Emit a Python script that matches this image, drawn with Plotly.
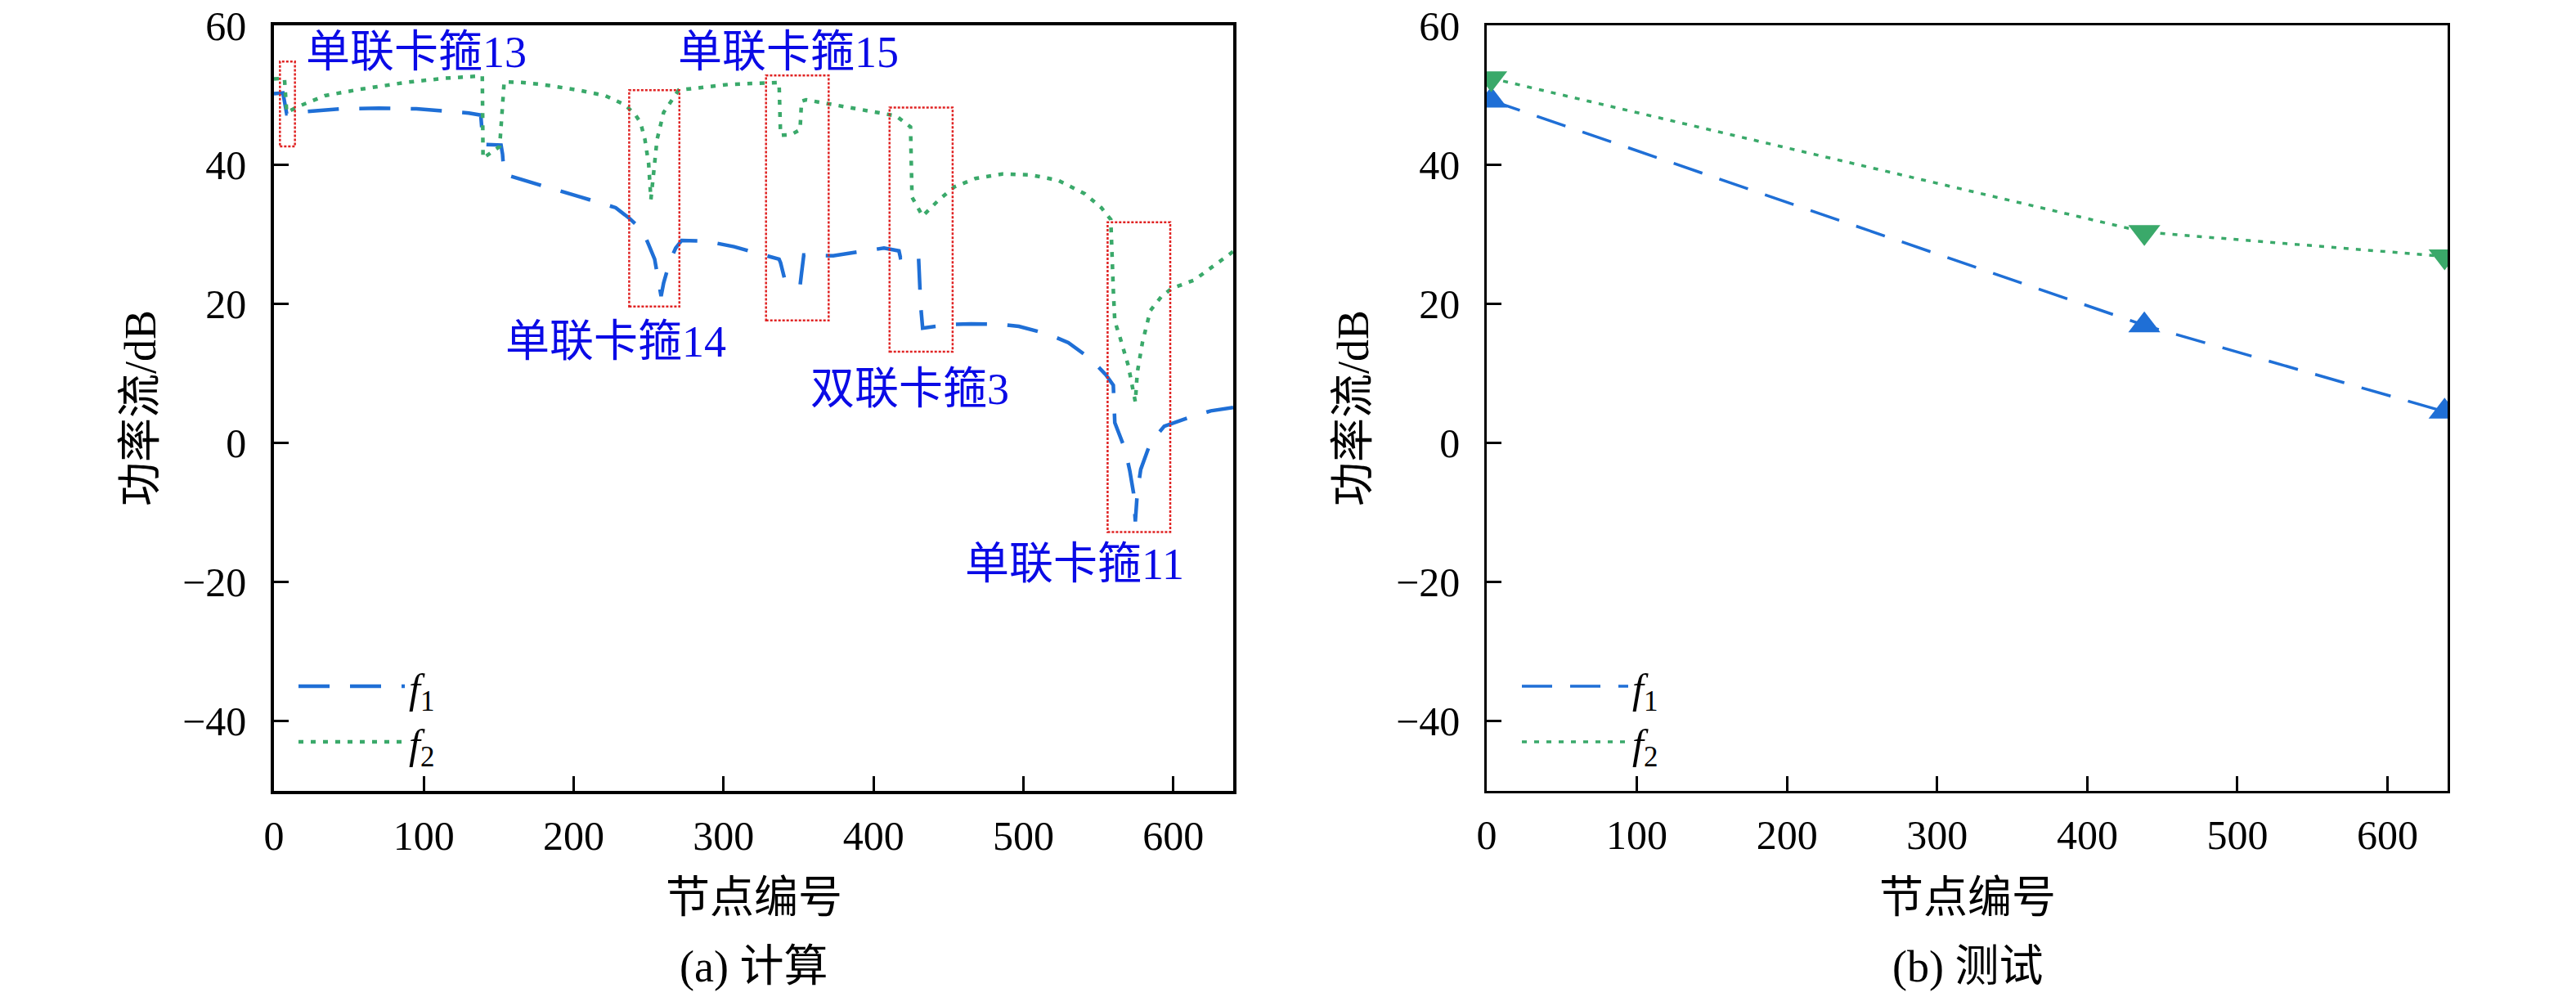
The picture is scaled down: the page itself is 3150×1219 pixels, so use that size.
import plotly.graph_objects as go

# ---------------- data: panel (a) 计算 ----------------
f1_x = [0, 6, 8.5, 20, 45, 70, 95, 115, 130, 138, 139.5, 151.5, 152.5, 153.5, 173, 186, 205, 219, 228, 237,
        246, 250, 254, 256.5, 258.3, 260, 264, 268, 272, 288, 307, 320, 337, 338, 341, 346, 351, 352, 353.5,
        373, 387, 407, 417, 418, 425, 430, 431.5, 432.8, 450, 465, 485, 497, 517, 530, 545, 555, 560, 561,
        568, 571, 573.5, 574.7, 576, 578.3, 584.7, 594, 612, 625, 640]
f1_y = [50.2, 50.3, 47.3, 47.6, 48.0, 48.1, 48.0, 47.7, 47.4, 47.1, 42.9, 42.8, 41.5, 38.6, 37.4, 36.6, 35.3, 34.4, 33.8, 32.3,
        30.5, 28.5, 26.4, 23.3, 21.1, 23.0, 26.0, 28.0, 29.1, 29.0, 28.2, 27.4, 26.4, 25.9, 23.3, 23.0, 22.6, 24.4, 27.0,
        26.9, 27.4, 28.0, 27.6, 26.6, 26.9, 27.0, 19.7, 16.5, 17.0, 17.1, 17.05, 16.75, 15.6, 14.4, 12.05, 9.8, 8.3, 2.9,
        -1.0, -4.0, -7.2, -11.3, -7.2, -3.8, 0.0, 2.4, 3.75, 4.6, 5.1]

f2_x = [0, 7, 8.5, 18, 34, 57, 88, 114, 135.5, 139, 139.5, 150.6, 153.6, 165, 179, 203, 221, 234, 241,
        244.6, 247.5, 250, 251.5, 253.4, 255.6, 260, 270, 303, 337, 338, 345, 351, 352, 355, 375, 403, 415,
        424.7, 425.7, 432.8, 443, 454, 468, 486, 505, 523, 541, 552, 558.3, 560, 561, 564.7, 570, 574.7,
        576, 579.5, 584.7, 592, 599, 614, 625, 640]
f2_y = [52.3, 52.4, 47.5, 48.5, 49.9, 50.8, 51.8, 52.4, 52.7, 52.7, 40.9, 42.6, 51.9, 51.8, 51.5, 50.7, 49.9, 48.6, 47.2,
        46.0, 43.6, 40.1, 35.0, 39.0, 43.6, 47.5, 50.7, 51.5, 51.8, 44.2, 44.3, 45.0, 49.1, 49.3, 48.5, 47.5, 47.0,
        45.4, 35.3, 32.6, 34.8, 36.8, 38.0, 38.65, 38.5, 37.75, 35.8, 33.8, 32.1, 22.0, 17.5, 15.0, 11.1, 5.9,
        10.1, 14.5, 19.0, 21.0, 22.2, 23.4, 25.2, 27.5]

# annotation boxes (x0, x1, y0, y1) and labels (text, x, y)
box_x0 = [4, 237, 328.3, 410.7, 556.2]
box_x1 = [14, 270.5, 370.1, 452.8, 598]
box_y0 = [42.6, 19.6, 17.6, 13.1, -12.8]
box_y1 = [54.8, 50.7, 52.8, 48.2, 31.7]
label_text = ["单联卡箍13", "单联卡箍15", "单联卡箍14", "双联卡箍3", "单联卡箍11"]
label_x = [95, 343, 228, 424, 534]
label_y = [56.1, 56.1, 14.5, 7.7, -17.5]

# ---------------- data: panel (b) 测试 ----------------
b_x = [3, 438, 638]
b_f1 = [49.2, 16.9, 4.5]
b_f2 = [52.4, 30.3, 26.8]

x_ticks = [0, 100, 200, 300, 400, 500, 600]
y_ticks = [-40, -20, 0, 20, 40, 60]

BLUE = "#1f6fd6"
GREEN = "#3aa96a"
RED = "#e02222"
LABEL = "#0a0ae6"
FONT = "Liberation Serif, 'Noto Sans CJK SC', serif"

W, H = 3150, 1219
dom_a = [335 / W, 1508 / W]
dom_b = [1818 / W, 2993 / W]
dom_y = [1 - 967 / H, 1 - 31 / H]

fig = go.Figure()

fig.add_trace(go.Scatter(x=f1_x, y=f1_y, mode="lines", name="<i>f</i><sub>1</sub>",
                         line=dict(color=BLUE, width=4.5, dash="38px,25px"),
                         xaxis="x", yaxis="y", legend="legend"))
fig.add_trace(go.Scatter(x=f2_x, y=f2_y, mode="lines", name="<i>f</i><sub>2</sub>",
                         line=dict(color=GREEN, width=4.5, dash="6px,9px"),
                         xaxis="x", yaxis="y", legend="legend"))

fig.add_trace(go.Scatter(x=b_x, y=b_f1, mode="lines", name="<i>f</i><sub>1</sub>",
                         line=dict(color=BLUE, width=3.5, dash="37px,22px"),
                         xaxis="x2", yaxis="y2", legend="legend2"))
fig.add_trace(go.Scatter(x=b_x, y=b_f2, mode="lines", name="<i>f</i><sub>2</sub>",
                         line=dict(color=GREEN, width=3.5, dash="6px,9px"),
                         xaxis="x2", yaxis="y2", legend="legend2"))
fig.add_trace(go.Scatter(x=b_x, y=b_f1, mode="markers", showlegend=False,
                         marker=dict(symbol="triangle-up", size=34, color=BLUE),
                         xaxis="x2", yaxis="y2"))
fig.add_trace(go.Scatter(x=b_x, y=b_f2, mode="markers", showlegend=False,
                         marker=dict(symbol="triangle-down", size=34, color=GREEN),
                         xaxis="x2", yaxis="y2"))

for x0, x1, y0, y1 in zip(box_x0, box_x1, box_y0, box_y1):
    fig.add_shape(type="rect", xref="x", yref="y", x0=x0, x1=x1, y0=y0, y1=y1,
                  line=dict(color=RED, width=2.5, dash="3px,2px"), fillcolor="rgba(0,0,0,0)")

annotations = []
for t, x, y in zip(label_text, label_x, label_y):
    annotations.append(dict(text=t, x=x, y=y, xref="x", yref="y", showarrow=False,
                            xanchor="center", yanchor="middle",
                            font=dict(family=FONT, size=54, color=LABEL)))

for dom, sub in [(dom_a, "(a) 计算"), (dom_b, "(b) 测试")]:
    cx = (dom[0] + dom[1]) / 2
    annotations.append(dict(text="节点编号", x=cx, y=1 - 1098 / H, xref="paper", yref="paper",
                            xanchor="center", yanchor="middle", showarrow=False,
                            font=dict(family=FONT, size=54, color="black")))
    annotations.append(dict(text=sub, x=cx, y=1 - 1182 / H, xref="paper", yref="paper",
                            xanchor="center", yanchor="middle", showarrow=False,
                            font=dict(family=FONT, size=54, color="black")))
    annotations.append(dict(text="功率流/dB", x=dom[0] - 163 / W, y=1 - 499 / H, xref="paper",
                            yref="paper", xanchor="center", yanchor="middle",
                            showarrow=False, textangle=-90,
                            font=dict(family=FONT, size=54, color="black")))

axis_common = dict(showgrid=False, zeroline=False, ticks="inside", ticklen=18, tickwidth=3,
                   tickcolor="black", linecolor="black", mirror=True, showline=True,
                   automargin=False,
                   tickfont=dict(family=FONT, size=50, color="black"))

fig.update_layout(
    width=W, height=H,
    margin=dict(l=0, r=0, t=0, b=0, autoexpand=False),
    paper_bgcolor="white", plot_bgcolor="white",
    xaxis=dict(domain=dom_a, range=[0, 640], tickvals=x_ticks, linewidth=3.5,
               ticklabelstandoff=8, anchor="y", **axis_common),
    yaxis=dict(domain=dom_y, range=[-50, 60], tickvals=y_ticks, linewidth=3.5,
               ticklabelstandoff=20, anchor="x", **axis_common),
    xaxis2=dict(domain=dom_b, range=[0, 640], tickvals=x_ticks, linewidth=2.5,
                ticklabelstandoff=8, anchor="y2", **axis_common),
    yaxis2=dict(domain=dom_y, range=[-50, 60], tickvals=y_ticks, linewidth=2.5,
                ticklabelstandoff=20, anchor="x2", **axis_common),
    legend=dict(x=(360) / W, y=1 - 800 / H, xanchor="left", yanchor="top",
                bgcolor="rgba(0,0,0,0)", itemwidth=130, tracegroupgap=0,
                font=dict(family=FONT, size=50, color="black")),
    legend2=dict(x=(1856) / W, y=1 - 800 / H, xanchor="left", yanchor="top",
                 bgcolor="rgba(0,0,0,0)", itemwidth=130, tracegroupgap=0,
                 font=dict(family=FONT, size=50, color="black")),
    annotations=annotations,
    showlegend=True,
)

fig.write_html("out.html", config={"displayModeBar": False},
               post_script="document.body.style.margin='0px';")
